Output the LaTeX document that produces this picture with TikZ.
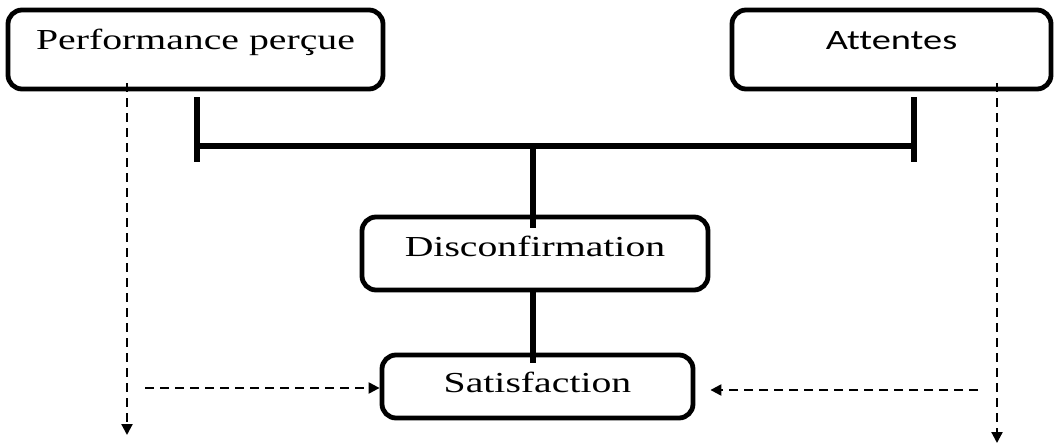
\documentclass[tikz,border=0pt]{standalone}
\usepackage{fontspec}
\usetikzlibrary{arrows.meta,calc}
\newfontfamily\serifw[FakeStretch=1.37]{Liberation Serif}
\newfontfamily\sansw[FakeStretch=1.37,Ligatures=NoCommon]{Carlito}
\begin{document}
\begin{tikzpicture}[x=1pt,y=-1pt,
  box/.style={draw=black,line width=4.8pt,rounded corners=14pt,inner sep=0pt,anchor=base,fill=white},
  link/.style={line width=5.5pt},
  dasharrow/.style={line width=2.2pt,dash pattern=on 9pt off 6pt,-{Triangle[length=11pt,width=11pt]}}]
\useasboundingbox (0,0) rectangle (1056,446);
% bar junctions
\coordinate (jl) at (197,146);
\coordinate (jlb) at (197,162);
\coordinate (jr) at (914,146);
\coordinate (jrb) at (914,162);
\coordinate (jm) at (533,146);
% dashed free ends
\coordinate (dl) at (127,435);
\coordinate (dr) at (997,443);
\coordinate (hl) at (145,388);
\coordinate (hr) at (978,390);
% boxes
\node[box,minimum width=375pt,text height=40pt,text depth=39pt,font=\serifw\fontsize{29pt}{34pt}\selectfont] (b1) at (195.5,50) {Performance perçue};
\node[box,minimum width=319pt,text height=40pt,text depth=39pt,font=\sansw\fontsize{28pt}{33pt}\selectfont] (b2) at (891.5,50) {Attentes};
% thick connectors
\draw[link] ([yshift=-6pt]b1.south -| jl) -- (jlb);
\draw[link] ([yshift=-6pt]b2.south -| jr) -- (jrb);
\draw[link] (jl) -- (jr);
\node[box,minimum width=346pt,text height=39pt,text depth=34pt,font=\serifw\fontsize{29pt}{34pt}\selectfont,fill=none] (b3) at (535,256) {Disconfirmation};
\draw[link] (jm) -- ([yshift=-13pt]b3.north -| jm);
\node[box,minimum width=311pt,text height=37pt,text depth=26pt,font=\serifw\fontsize{29pt}{34pt}\selectfont,fill=none] (b4) at (537.5,392) {Satisfaction};
\draw[link] ([yshift=4pt]b3.south -| jm) -- ([yshift=-10pt]b4.north -| jm);
% dashed arrows
\draw[dasharrow] ([yshift=8pt]b1.south -| dl) -- (dl);
\draw[dasharrow] ([yshift=8pt]b2.south -| dr) -- (dr);
\draw[dasharrow] (hl) -- (b4.west |- hl);
\draw[dasharrow] (hr) -- ([xshift=15pt]b4.east |- hr);
\end{tikzpicture}
\end{document}
